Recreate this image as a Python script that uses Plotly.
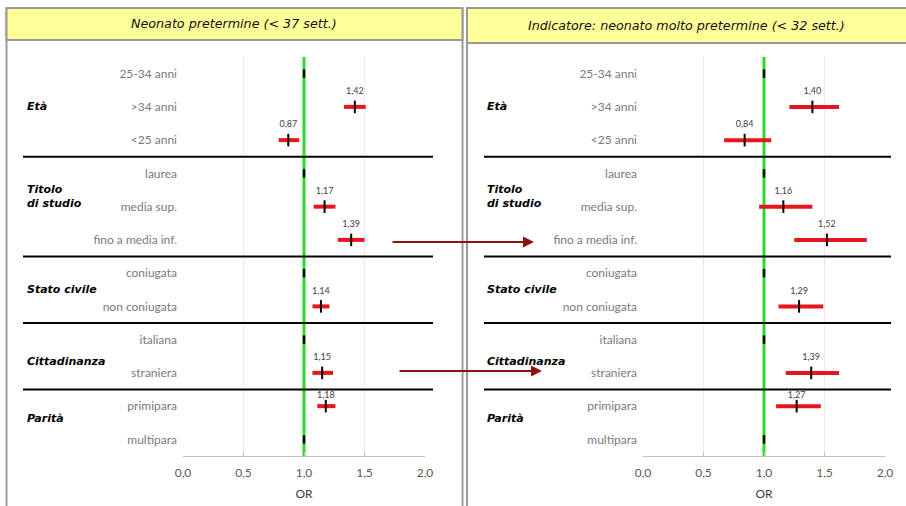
import plotly.graph_objects as go

W, H = 906, 506

# ---------------- data ----------------
categories = ["25-34 anni", ">34 anni", "<25 anni",
              "laurea", "media sup.", "fino a media inf.",
              "coniugata", "non coniugata",
              "italiana", "straniera",
              "primipara", "multipara"]
groups = ["Età", "Titolo<br>di studio", "Stato civile", "Cittadinanza", "Parità"]
group_sizes = [3, 3, 2, 2, 2]

or_left = [1.00, 1.42, 0.87, 1.00, 1.17, 1.39, 1.00, 1.14, 1.00, 1.15, 1.18, 1.00]
lo_left = [None, 1.33, 0.79, None, 1.08, 1.28, None, 1.07, None, 1.07, 1.11, None]
hi_left = [None, 1.51, 0.96, None, 1.26, 1.50, None, 1.21, None, 1.24, 1.26, None]

or_right = [1.00, 1.40, 0.84, 1.00, 1.16, 1.52, 1.00, 1.29, 1.00, 1.39, 1.27, 1.00]
lo_right = [None, 1.21, 0.67, None, 0.96, 1.25, None, 1.12, None, 1.18, 1.10, None]
hi_right = [None, 1.62, 1.06, None, 1.40, 1.85, None, 1.49, None, 1.62, 1.47, None]

x_ticks = [0.0, 0.5, 1.0, 1.5, 2.0]
x_tick_labels = ["0,0", "0,5", "1,0", "1,5", "2,0"]
ref_or = 1.0
panel_titles = ["Neonato pretermine (< 37 sett.)",
                "Indicatore: neonato molto pretermine (< 32 sett.)"]
axis_title = "OR"

# ---------------- styles ----------------
RED = "#E8161C"
GREEN = "#2CDA2C"
DARKRED = "#8E1111"
BORDER = "#9A9A9A"
HEADER_FILL = "#FFFF99"
LABEL_FONT = "Lato"
GROUP_FONT = "DejaVu Sans"
label_offsets = [0.45] * 10 + [0.31, 0.45]


def px(x):
    return x / W


def py(y):
    return 1 - y / H


rows = list(range(len(categories)))
y_range = [len(categories) - 0.5, -0.5]
y_domain = [py(456), py(57)]
x_domains = [[px(183), px(425)], [px(643), px(885)]]

fig = go.Figure()

panels = [(or_left, lo_left, hi_left), (or_right, lo_right, hi_right)]
for p, (ors, los, his) in enumerate(panels):
    xa = "x" if p == 0 else "x2"
    ya = "y" if p == 0 else "y2"
    # reference line at OR = 1
    fig.add_trace(go.Scatter(x=[ref_or, ref_or], y=y_range, mode="lines",
                             line=dict(color=GREEN, width=3), hoverinfo="skip",
                             showlegend=False, xaxis=xa, yaxis=ya))
    est_idx = [i for i in rows if los[i] is not None]
    ref_idx = [i for i in rows if los[i] is None]
    # estimates with CI
    fig.add_trace(go.Scatter(
        x=[ors[i] for i in est_idx], y=est_idx, mode="markers",
        marker=dict(symbol="line-ns", size=9, line=dict(color="black", width=2)),
        error_x=dict(type="data", symmetric=False,
                     array=[his[i] - ors[i] for i in est_idx],
                     arrayminus=[ors[i] - los[i] for i in est_idx],
                     color=RED, thickness=4, width=0),
        showlegend=False, xaxis=xa, yaxis=ya))
    # reference categories
    fig.add_trace(go.Scatter(
        x=[ors[i] for i in ref_idx], y=ref_idx, mode="markers",
        marker=dict(symbol="line-ns", size=6, line=dict(color="black", width=2.5)),
        showlegend=False, xaxis=xa, yaxis=ya))
    # value labels
    fig.add_trace(go.Scatter(
        x=[ors[i] for i in est_idx], y=[i - label_offsets[i] for i in est_idx],
        mode="text",
        text=[f"{ors[i]:.2f}".replace(".", ",") for i in est_idx],
        textfont=dict(family=LABEL_FONT, size=9, color="#404040"),
        hoverinfo="skip", showlegend=False, xaxis=xa, yaxis=ya))

xaxis_style = dict(range=[0, 2], tickvals=x_ticks, ticktext=x_tick_labels,
                   showgrid=True, gridcolor="#EBEBEB", gridwidth=1,
                   zeroline=False, showline=True, linecolor="#C0C0C0", linewidth=1,
                   ticks="inside", ticklen=4, tickcolor="#C0C0C0",
                   tickfont=dict(family=LABEL_FONT, size=12, color="#595959"),
                   ticklabelstandoff=6, automargin=False,
                   title=dict(text=axis_title, standoff=10,
                              font=dict(family=LABEL_FONT, size=12, color="#404040")),
                   fixedrange=True)
yaxis_style = dict(range=y_range, domain=y_domain, tickvals=rows, ticktext=categories,
                   showgrid=False, zeroline=False, showline=False, ticks="",
                   tickfont=dict(family=LABEL_FONT, size=12, color="#7A7A7A"),
                   ticklabelstandoff=5, automargin=False, fixedrange=True)

fig.update_layout(
    width=W, height=H, autosize=False,
    margin=dict(l=0, r=0, t=0, b=0, pad=0),
    paper_bgcolor="white", plot_bgcolor="white",
    showlegend=False,
    xaxis=dict(domain=x_domains[0], anchor="y", **xaxis_style),
    yaxis=dict(anchor="x", **yaxis_style),
    xaxis2=dict(domain=x_domains[1], anchor="y2", **xaxis_style),
    yaxis2=dict(anchor="x2", **yaxis_style),
)

shapes = []
annotations = []

# panel frames and headers
for x in [6.5, 462.5, 467]:
    shapes.append(dict(type="line", xref="paper", yref="paper",
                       x0=px(x), x1=px(x), y0=py(8), y1=py(506),
                       line=dict(color=BORDER, width=2)))
headers = [(6.5, 462.5, 8, 40, 234), (467, 912, 8, 43, 686)]
for (x0, x1, y0, y1, xc), title in zip(headers, panel_titles):
    shapes.append(dict(type="rect", xref="paper", yref="paper",
                       x0=px(x0), x1=px(x1), y0=py(y1), y1=py(y0),
                       fillcolor=HEADER_FILL, line=dict(color=BORDER, width=2)))
    annotations.append(dict(xref="paper", yref="paper",
                            x=px(xc), y=py((y0 + y1) / 2),
                            xanchor="center", yanchor="middle",
                            text=f"<i>{title}</i>", showarrow=False,
                            font=dict(family="DejaVu Sans", size=12.7, color="#111111")))

# group separators and group labels
sep_x = [(23, 433), (484, 891)]
label_x = [25, 485]
group_yshift = [0, 10, 0, -5, 4]
for p in range(2):
    ya = "y" if p == 0 else "y2"
    start = 0
    for g, size in enumerate(group_sizes):
        center = start + (size - 1) / 2
        annotations.append(dict(xref="paper", yref=ya, x=px(label_x[p]), y=center,
                                xanchor="left", yanchor="middle", align="left",
                                yshift=group_yshift[g],
                                text=f"<b><i>{groups[g]}</i></b>", showarrow=False,
                                font=dict(family=GROUP_FONT, size=11, color="black")))
        start += size
        if g < len(group_sizes) - 1:
            yb = start - 0.5
            shapes.append(dict(type="line", xref="paper", yref=ya,
                               x0=px(sep_x[p][0]), x1=px(sep_x[p][1]), y0=yb, y1=yb,
                               line=dict(color="black", width=2)))

# connecting arrows
arrows = [(391, 534, 242), (398, 542, 371)]
for x0, x1, y in arrows:
    annotations.append(dict(xref="paper", yref="paper", x=px(x1), y=py(y),
                            xanchor="center", yanchor="middle",
                            ax=x0 - x1, ay=0, text="", showarrow=True,
                            arrowhead=2, arrowsize=1.1, arrowwidth=2,
                            arrowcolor=DARKRED))

fig.update_layout(shapes=shapes, annotations=annotations)

fig.write_html("out.html",
               config={"displayModeBar": False, "staticPlot": True},
               post_script="document.body.style.margin='0';"
                           "document.body.style.overflow='hidden';")
